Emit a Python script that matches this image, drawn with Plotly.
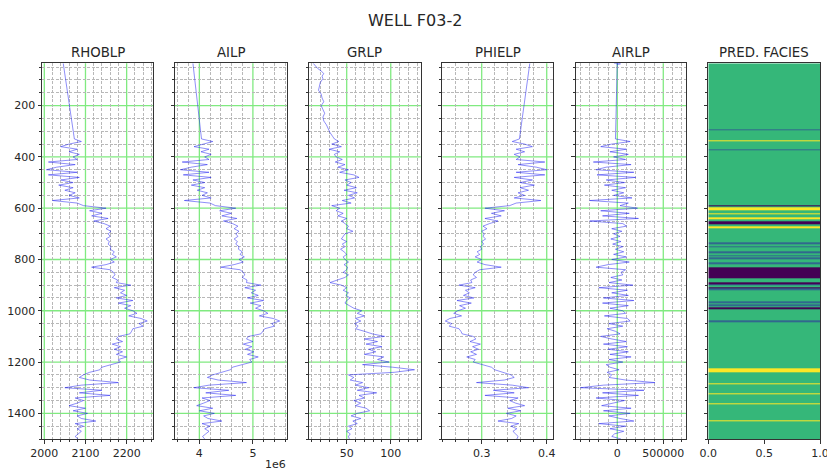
import plotly.graph_objects as go

# ---------------- data ----------------
depth = [35, 330] + list(range(340, 1501, 10))

rhob = [2046, 2073,
        2090, 2060, 2040, 2080, 2060, 2085, 2070, 2080, 2010, 2075,
        2030, 2005, 2080, 2010, 2085, 2040, 2070, 2035, 2070, 2050,
        2075, 2060, 2085, 2020, 2080, 2095, 2150, 2110, 2140, 2115,
        2155, 2120, 2145, 2160, 2150, 2162, 2155, 2160, 2150, 2158,
        2155, 2162, 2160, 2170, 2165, 2175, 2160, 2170, 2150, 2115,
        2160, 2168, 2172, 2165, 2178, 2175, 2210, 2170, 2195, 2185,
        2200, 2175, 2215, 2180, 2210, 2195, 2215, 2225, 2205, 2235,
        2250, 2230, 2240, 2215, 2212, 2208, 2180, 2175, 2190, 2165,
        2185, 2170, 2190, 2175, 2200, 2180, 2185, 2160, 2140, 2135,
        2110, 2095, 2085, 2110, 2180, 2090, 2050, 2140, 2085, 2160,
        2075, 2095, 2080, 2060, 2100, 2070, 2105, 2080, 2090, 2125,
        2075, 2095, 2080, 2090, 2082, 2075, 2082]

ailp = [3.88e6, 4.04e6,
        4.25e6, 4.05e6, 3.90e6, 4.18e6, 4.03e6, 4.22e6, 4.10e6, 4.18e6, 3.68e6, 4.15e6,
        3.85e6, 3.65e6, 4.18e6, 3.70e6, 4.22e6, 3.88e6, 4.10e6, 3.85e6, 4.10e6, 3.96e6,
        4.15e6, 4.05e6, 4.22e6, 3.72e6, 4.20e6, 4.30e6, 4.68e6, 4.38e6, 4.60e6, 4.42e6,
        4.70e6, 4.45e6, 4.62e6, 4.72e6, 4.65e6, 4.74e6, 4.68e6, 4.72e6, 4.65e6, 4.71e6,
        4.68e6, 4.74e6, 4.73e6, 4.80e6, 4.76e6, 4.84e6, 4.74e6, 4.82e6, 4.65e6, 4.40e6,
        4.76e6, 4.82e6, 4.85e6, 4.80e6, 4.89e6, 4.88e6, 5.15e6, 4.85e6, 5.05e6, 4.97e6,
        5.10e6, 4.90e6, 5.20e6, 4.95e6, 5.15e6, 5.05e6, 5.20e6, 5.28e6, 5.12e6, 5.38e6,
        5.50e6, 5.35e6, 5.40e6, 5.22e6, 5.18e6, 5.15e6, 4.92e6, 4.88e6, 5.00e6, 4.82e6,
        4.98e6, 4.86e6, 5.02e6, 4.90e6, 5.10e6, 4.94e6, 4.98e6, 4.78e6, 4.62e6, 4.58e6,
        4.40e6, 4.25e6, 4.15e6, 4.35e6, 4.88e6, 4.18e6, 3.90e6, 4.55e6, 4.12e6, 4.68e6,
        4.05e6, 4.20e6, 4.08e6, 3.95e6, 4.25e6, 4.00e6, 4.28e6, 4.08e6, 4.16e6, 4.42e6,
        4.05e6, 4.20e6, 4.10e6, 4.18e6, 4.12e6, 4.06e6, 4.10e6]

phie = [0.374, 0.358,
        0.347, 0.366, 0.378, 0.353, 0.366, 0.350, 0.359, 0.353, 0.397, 0.356,
        0.384, 0.400, 0.353, 0.397, 0.350, 0.378, 0.359, 0.381, 0.359, 0.372,
        0.356, 0.366, 0.350, 0.391, 0.353, 0.343, 0.305, 0.335, 0.315, 0.330,
        0.305, 0.325, 0.312, 0.302, 0.308, 0.300, 0.304, 0.302, 0.306, 0.300,
        0.303, 0.298, 0.300, 0.293, 0.297, 0.290, 0.300, 0.293, 0.305, 0.330,
        0.297, 0.290, 0.287, 0.292, 0.283, 0.285, 0.265, 0.290, 0.275, 0.281,
        0.272, 0.288, 0.262, 0.284, 0.266, 0.275, 0.263, 0.257, 0.269, 0.251,
        0.244, 0.254, 0.250, 0.265, 0.268, 0.270, 0.287, 0.291, 0.282, 0.298,
        0.286, 0.295, 0.283, 0.292, 0.277, 0.290, 0.287, 0.303, 0.315, 0.320,
        0.334, 0.345, 0.350, 0.335, 0.292, 0.347, 0.372, 0.318, 0.350, 0.305,
        0.356, 0.343, 0.352, 0.366, 0.340, 0.360, 0.338, 0.353, 0.346, 0.325,
        0.357, 0.345, 0.354, 0.348, 0.352, 0.356, 0.354]

airlp_top_depth = [35, 37, 39]
airlp_top = [-35000, 35000, 0]
airlp = [0, -20000,
         140000, -60000, -180000, 100000, -80000, 120000, -40000, 90000, -260000, 150000,
         -120000, -230000, 180000, -220000, 200000, -120000, 80000, -140000, 90000, -60000,
         70000, -40000, 160000, -300000, 120000, 30000, 220000, -180000, 130000, -160000,
         230000, -300000, 60000, 100000, -60000, 50000, -40000, 30000, -70000, 40000,
         -50000, 60000, -20000, 70000, -40000, 100000, -60000, 130000, -100000, -230000,
         90000, 40000, 60000, -70000, 50000, -90000, 170000, -200000, 110000, -60000,
         120000, -150000, 180000, -160000, 120000, -80000, 60000, 90000, -140000, 110000,
         140000, -90000, 60000, -110000, -20000, 30000, -180000, -60000, 100000, -150000,
         110000, -100000, 120000, -80000, 150000, -90000, 60000, -120000, -80000, 20000,
         -110000, -60000, -90000, 90000, 410000, -150000, -400000, 290000, -160000, 230000,
         -230000, 80000, -60000, -170000, 150000, -150000, 140000, -90000, 30000, 180000,
         -200000, 90000, -80000, 70000, -30000, -60000, 40000]

gr_depth = [35, 45, 55, 65, 75, 85, 95, 110, 125, 140, 155, 170, 185, 200, 215,
            230, 245, 260, 275, 290, 305, 320, 330] + list(range(340, 1501, 10))
gr = [12, 14, 17, 21, 24, 22, 23, 20, 19, 18, 21, 22, 24, 21, 23,
      25, 23, 24, 27, 29, 31, 34, 36,
      41, 33, 44, 30, 42, 36, 38, 45, 37, 48,
      40, 52, 42, 58, 64, 48, 55, 50, 61, 47,
      62, 52, 59, 45, 55, 33, 42, 38, 46, 40,
      50, 44, 48, 52, 50, 57, 48, 46, 44, 50,
      45, 48, 43, 47, 50, 46, 48, 52, 47, 51,
      50, 46, 52, 48, 40, 31, 44, 50, 46, 52,
      49, 54, 50, 48, 53, 58, 67, 62, 70, 60,
      66, 59, 63, 60, 70, 79, 93, 70, 85, 72,
      90, 75, 83, 70, 92, 85, 98, 68, 102, 127,
      104, 52, 58, 54, 68, 60, 75, 62, 84, 64,
      70, 58, 66, 60, 72, 76, 62, 55, 66, 57,
      62, 52, 56, 50, 54, 52, 53]

# facies intervals (edges top->bottom) and class per interval
facies_edges = [35, 291, 297, 334, 338, 371, 376, 589, 594, 597, 607, 619, 623,
                636, 644, 650, 653, 661, 664, 670, 677, 733, 739, 748, 752, 769,
                775, 783, 788, 793, 799, 810, 818, 832, 874, 889, 896, 900, 907,
                911, 913, 920, 962, 970, 975, 983, 987, 996, 1038, 1044, 1226,
                1238, 1283, 1287, 1321, 1325, 1362, 1365, 1427, 1431, 1500]
facies_class = [2, 1, 2, 3, 2, 1, 2, 0, 2, 3, 2, 3,
                2, 3, 2, 1, 0, 1, 2, 3, 2, 1, 2, 1, 2,
                1, 2, 1, 2, 1, 2, 1, 2, 0, 2, 0, 1, 2,
                0, 2, 1, 2, 1, 2, 1, 2, 0, 2, 1, 2,
                3, 2, 3, 2, 3, 2, 3, 2, 3, 2]

titles = ["RHOBLP", "AILP", "GRLP", "PHIELP", "AIRLP", "PRED. FACIES"]
suptitle = "WELL F03-2"

# ---------------- styling / layout ----------------
W, H = 827, 472
FONT = "DejaVu Sans"
panel_px = [(42, 153), (175, 287), (309, 420.7), (442.3, 552.7), (575.7, 686), (708.3, 820)]
y_top_px, y_bot_px = 63.3, 439
ydom = [1 - y_bot_px / H, 1 - y_top_px / H]
depth_range = [1500, 35]

line_col = "rgba(20,20,240,0.6)"
major_grid = "#80ea80"
minor_grid = "#b8b8b8"
dash = "3px,1.5px"


def minor_positions(lo, hi, step, major):
    """Minor tick positions inside [lo, hi] that do not coincide with major ticks."""
    out = []
    k = int(lo // step) - 1
    while k * step <= hi + step:
        v = round(k * step, 10)
        if lo <= v <= hi and all(abs(v - m) > step * 1e-6 for m in major):
            out.append(v)
        k += 1
    return out


fig = go.Figure()

curves = [
    (depth, rhob), (depth, ailp), (gr_depth, gr), (depth, phie),
    (airlp_top_depth + depth, airlp_top + airlp),
]
for i, (dd, vv) in enumerate(curves):
    ax = "" if i == 0 else str(i + 1)
    fig.add_trace(go.Scatter(x=vv, y=dd, mode="lines",
                             line=dict(color=line_col, width=0.8),
                             xaxis="x" + ax, yaxis="y" + ax, showlegend=False,
                             hoverinfo="skip"))

fig.add_trace(go.Heatmap(
    z=[[c] for c in facies_class], x=[0, 1], y=facies_edges,
    zmin=0, zmax=3, zsmooth=False, showscale=False,
    colorscale=[[0, "#440154"], [1 / 3, "#31688e"], [2 / 3, "#35b779"], [1, "#fde725"]],
    xaxis="x6", yaxis="y6", hoverinfo="skip"))

xcfg = [
    dict(range=[1994.4, 2264], tickvals=[2000, 2100, 2200], ticktext=["2000", "2100", "2200"], minor_dtick=20),
    dict(range=[3.545e6, 5.637e6], tickvals=[4e6, 5e6], ticktext=["4", "5"], minor_dtick=0.2e6),
    dict(range=[7.2, 134], tickvals=[50, 100], ticktext=["50", "100"], minor_dtick=10),
    dict(range=[0.2394, 0.4092], tickvals=[0.3, 0.4], ticktext=["0.3", "0.4"], minor_dtick=0.02),
    dict(range=[-452000, 747000], tickvals=[0, 500000], ticktext=["0", "500000"], minor_dtick=100000),
    dict(range=[0, 1], tickvals=[0, 0.5, 1], ticktext=["0.0", "0.5", "1.0"], minor_dtick=None),
]

y_major = [200, 400, 600, 800, 1000, 1200, 1400]
y_minor = minor_positions(35, 1500, 50, y_major)

layout = dict(width=W, height=H, margin=dict(l=0, r=0, t=0, b=0, autoexpand=False),
              paper_bgcolor="white", plot_bgcolor="white",
              font=dict(family=FONT, size=11, color="#262626"), showlegend=False)

annotations = []
shapes = []
for i, (x0, x1) in enumerate(panel_px):
    ax = "" if i == 0 else str(i + 1)
    c = xcfg[i]
    is_fac = c["minor_dtick"] is None
    xa = dict(domain=[x0 / W, x1 / W], range=c["range"], anchor="y" + ax, automargin=False,
              tickmode="array", tickvals=c["tickvals"], ticktext=c["ticktext"],
              ticks="outside", ticklen=3.5, tickwidth=0.8, tickcolor="#333",
              showline=True, mirror=True, linecolor="#333", linewidth=1,
              zeroline=False, showgrid=False,
              tickfont=dict(size=11, color="#262626", family=FONT), fixedrange=True,
              ticklabeloverflow="allow")
    if not is_fac:
        xmin = minor_positions(c["range"][0], c["range"][1], c["minor_dtick"], c["tickvals"])
        xa["minor"] = dict(tickmode="array", tickvals=xmin, ticks="outside",
                           ticklen=2, tickwidth=0.6, tickcolor="#333", showgrid=True,
                           gridcolor=minor_grid, griddash=dash, gridwidth=0.8)
    ya = dict(domain=ydom, range=depth_range, anchor="x" + ax, automargin=False,
              tickmode="array", tickvals=y_major, ticktext=[str(v) for v in y_major],
              ticks="outside", ticklen=3.5, tickwidth=0.8, tickcolor="#333",
              showticklabels=(i == 0),
              showline=True, mirror=True, linecolor="#333", linewidth=1,
              zeroline=False, showgrid=False,
              tickfont=dict(size=11, color="#262626", family=FONT), fixedrange=True,
              minor=dict(tickmode="array", tickvals=y_minor, ticks="outside", ticklen=2,
                         tickwidth=0.6, tickcolor="#333", showgrid=not is_fac,
                         gridcolor=minor_grid, griddash=dash, gridwidth=0.8))
    layout["xaxis" + ax] = xa
    layout["yaxis" + ax] = ya
    if not is_fac:
        # major grid lines (green) at the major tick values
        for yv in y_major:
            shapes.append(dict(type="line", xref="x" + ax + " domain", yref="y" + ax,
                               x0=0, x1=1, y0=yv, y1=yv, layer="below",
                               line=dict(color=major_grid, width=1.3)))
        for xv in c["tickvals"]:
            shapes.append(dict(type="line", xref="x" + ax, yref="y" + ax + " domain",
                               x0=xv, x1=xv, y0=0, y1=1, layer="below",
                               line=dict(color=major_grid, width=1.3)))
    annotations.append(dict(text=titles[i], x=(x0 + x1) / 2 / W, y=1 - 52 / H,
                            xref="paper", yref="paper", xanchor="center", yanchor="middle",
                            showarrow=False, font=dict(size=13.3, family=FONT, color="#262626")))

annotations.append(dict(text=suptitle, x=415 / W, y=1 - 20 / H, xref="paper", yref="paper",
                        xanchor="center", yanchor="middle", showarrow=False,
                        font=dict(size=16, family=FONT, color="#262626")))
annotations.append(dict(text="1e6", x=288 / W, y=1 - 464 / H, xref="paper", yref="paper",
                        xanchor="right", yanchor="middle", showarrow=False,
                        font=dict(size=11, family=FONT, color="#262626")))
layout["annotations"] = annotations
layout["shapes"] = shapes
fig.update_layout(**layout)

fig.write_html("out.html")
